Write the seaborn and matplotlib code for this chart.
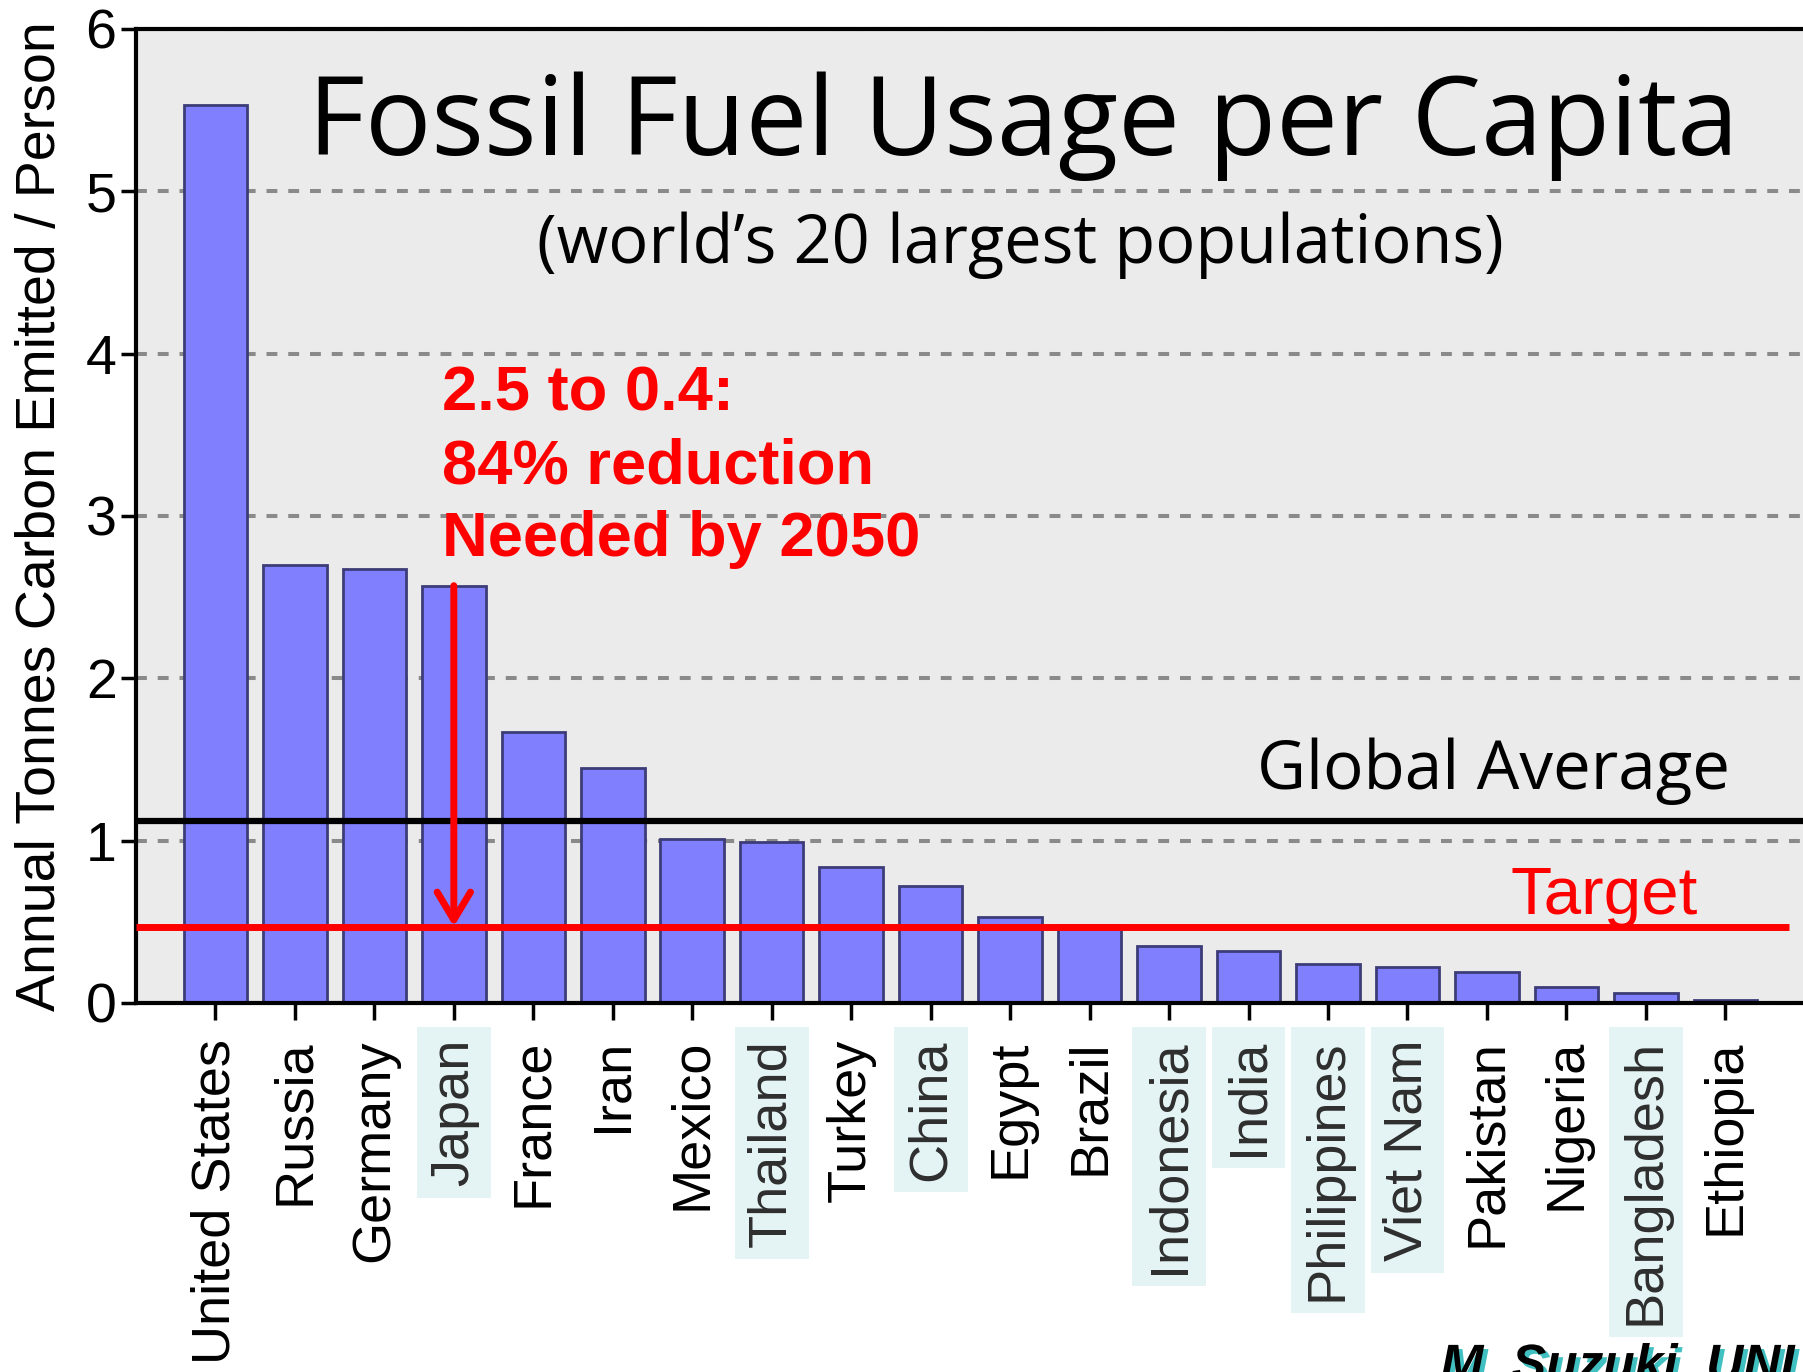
import matplotlib
matplotlib.use("Agg")
import matplotlib.pyplot as plt
import matplotlib.patheffects as pe
import pandas as pd
import seaborn as sns

# Annual tonnes of carbon emitted per person, world's 20 largest populations
countries = ["United States", "Russia", "Germany", "Japan", "France", "Iran",
             "Mexico", "Thailand", "Turkey", "China", "Egypt", "Brazil",
             "Indonesia", "India", "Philippines", "Viet Nam", "Pakistan",
             "Nigeria", "Bangladesh", "Ethiopia"]
emissions = [5.53, 2.70, 2.67, 2.57, 1.67, 1.45, 1.01, 0.99, 0.84, 0.72,
             0.53, 0.48, 0.35, 0.32, 0.24, 0.22, 0.19, 0.10, 0.06, 0.02]
asia_pacific = ["Japan", "Thailand", "China", "Indonesia", "India",
                "Philippines", "Viet Nam", "Bangladesh"]
global_average = 1.12
target_level = 0.47
y_ticks = [0, 1, 2, 3, 4, 5, 6]

df = pd.DataFrame({"country": countries, "emissions": emissions})

SANS = ["Liberation Sans", "DejaVu Sans"]
HUMANIST = ["Open Sans", "DejaVu Sans"]

fig = plt.figure(figsize=(18.03, 13.72), dpi=100)
ax = fig.add_axes([0.0754, 0.269, 0.9256, 0.710])
ax.set_facecolor("#ebebeb")

sns.barplot(data=df, x="country", y="emissions", order=countries,
            color="#8080ff", saturation=1, width=0.8,
            edgecolor="#3c3c78", linewidth=2, ax=ax, zorder=2)

ax.set_xlim(-1, 20.0)
ax.set_ylim(0, 6)

# dashed horizontal grid behind the bars
ax.set_axisbelow(True)
ax.yaxis.grid(True, color="#8a8a8a", linewidth=2.9, linestyle=(0, (2.7, 2.7)))
ax.xaxis.grid(False)

for side in ["left", "top", "bottom"]:
    ax.spines[side].set_linewidth(3)
    ax.spines[side].set_color("black")
ax.spines["right"].set_visible(False)

ax.set_yticks(y_ticks)
ax.set_yticklabels([str(t) for t in y_ticks], fontsize=40, family=SANS)
ax.tick_params(axis="y", length=11, width=2.5, pad=3, color="black")
ax.tick_params(axis="x", length=12, width=2.5, pad=14, color="black")

ax.set_xticks(range(len(countries)))
ax.set_xticklabels(countries, rotation=90, fontsize=39, family=SANS, va="top")
for lab in ax.get_xticklabels():
    if lab.get_text() in asia_pacific:
        lab.set_color("#2e2e2e")
        lab.set_bbox(dict(boxstyle="square,pad=0.22", facecolor="#e4f4f4",
                          edgecolor="none"))

ax.set_xlabel("")
ax.set_ylabel("Annual Tonnes Carbon Emitted / Person", fontsize=40,
              family=SANS, labelpad=13)

# reference levels
ax.axhline(global_average, color="black", linewidth=4.5, zorder=4)
ax.hlines(target_level, -1, 19.8, color="#ff0000", linewidth=5, zorder=4)

ax.text(0.955, global_average + 0.2, "Global Average", transform=ax.get_yaxis_transform(),
        ha="right", va="baseline", fontsize=48.5, family=HUMANIST, color="black")
ax.text(0.936, target_level + 0.075, "Target", transform=ax.get_yaxis_transform(),
        ha="right", va="baseline", fontsize=48.5, family=SANS, color="#ff0000")

# required cut for Japan
japan = countries.index("Japan")
ax.annotate("", xy=(japan, target_level), xytext=(japan, emissions[japan]),
            arrowprops=dict(arrowstyle="->,head_length=2.0,head_width=1.2",
                            color="#ff0000", lw=5, shrinkA=0, shrinkB=0,
                            capstyle="round", joinstyle="round"),
            zorder=5)
ax.text(2.85, 3.93, "2.5 to 0.4:\n84% reduction\nNeeded by 2050",
        ha="left", va="top", fontsize=45.5, fontweight="bold", family=SANS,
        color="#ff0000", linespacing=1.3, zorder=5)

# headings
ax.text(0.532, 0.870, "Fossil Fuel Usage per Capita", transform=ax.transAxes,
        ha="center", va="baseline", fontsize=79.5, family=HUMANIST, color="black")
ax.text(0.530, 0.760, "(world\u2019s 20 largest populations)", transform=ax.transAxes,
        ha="center", va="baseline", fontsize=48, family=HUMANIST, color="black")

# credit line
fig.text(0.799, -0.006, "M. Suzuki, UNI", ha="left", va="baseline",
         fontsize=37, fontweight="bold", style="italic", family=SANS,
         color="black",
         path_effects=[pe.withSimplePatchShadow(offset=(3, -3),
                                                shadow_rgbFace="#40c0c0",
                                                alpha=1.0)])

fig.savefig("out.png", dpi=100)
